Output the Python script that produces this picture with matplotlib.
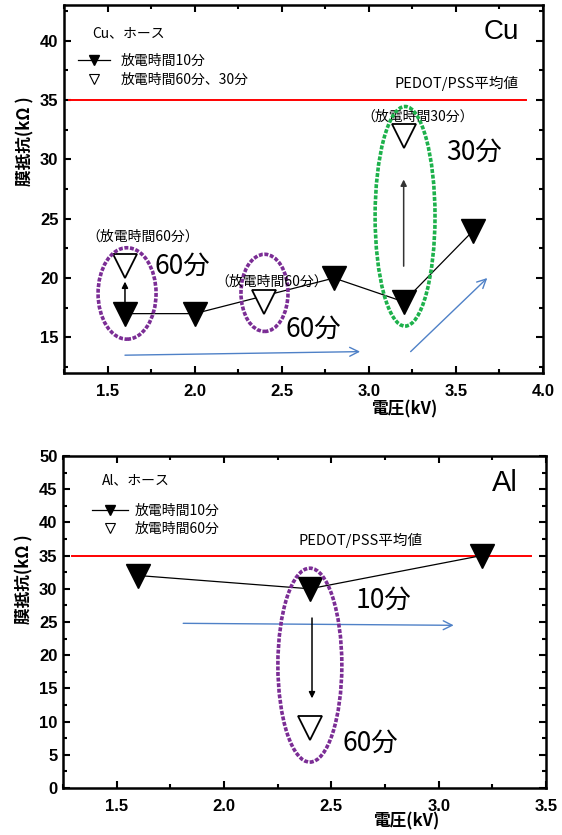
import matplotlib
matplotlib.use('Agg')
import matplotlib.pyplot as plt
from matplotlib.patches import Ellipse
from matplotlib.lines import Line2D
from matplotlib.ticker import MultipleLocator, FixedLocator

# ---------------- data ----------------
cu_v10 = [1.6, 2.0, 2.8, 3.2, 3.6]          # 放電時間10分
cu_r10 = [17, 17, 20, 18, 24]
cu_vlong = [1.6, 2.4, 3.2]                  # 放電時間60分、30分
cu_rlong = [21, 18, 32]

al_v10 = [1.6, 2.4, 3.2]                    # 放電時間10分
al_r10 = [32, 30, 35]
al_vlong = [2.4]                            # 放電時間60分
al_rlong = [9]

pedot_avg = 35

cu_xticks = [1.5, 2.0, 2.5, 3.0, 3.5, 4.0]
cu_yticks = [15, 20, 25, 30, 35, 40]
al_xticks = [1.5, 2.0, 2.5, 3.0, 3.5]
al_yticks = [0, 5, 10, 15, 20, 25, 30, 35, 40, 45, 50]

JP = ['Noto Sans CJK JP', 'DejaVu Sans']
LAT = ['Liberation Sans', 'DejaVu Sans']
PURPLE = '#7B2D95'
GREEN = '#1DB14B'
BLUE = '#4F81C7'
DASH = (0, (1.1, 0.45))

fig = plt.figure(figsize=(5.62, 8.35), dpi=100)
ax1 = fig.add_axes([0.1139, 0.5533, 0.8523, 0.4407])
ax2 = fig.add_axes([0.1121, 0.0563, 0.8594, 0.3976])


def style(ax, xticks, yticks, xlim, ylim):
    ax.set_xlim(*xlim)
    ax.set_ylim(*ylim)
    ax.xaxis.set_major_locator(FixedLocator(xticks))
    ax.yaxis.set_major_locator(FixedLocator(yticks))
    ax.xaxis.set_minor_locator(MultipleLocator(0.25))
    ax.yaxis.set_minor_locator(MultipleLocator(2.5))
    ax.set_xticklabels([f'{t:.1f}' for t in xticks])
    ax.set_yticklabels([f'{t:d}' for t in yticks])
    ax.tick_params(which='both', direction='in', top=True, right=True, width=1.5)
    ax.tick_params(which='major', length=5)
    ax.tick_params(which='minor', length=3)
    ax.tick_params(axis='x', pad=8)
    ax.tick_params(axis='y', pad=4)
    for lab in ax.get_xticklabels() + ax.get_yticklabels():
        lab.set_family(LAT)
        lab.set_weight('bold')
        lab.set_fontsize(12)
    for sp in ax.spines.values():
        sp.set_linewidth(1.8)
    ax.set_ylabel('膜抵抗(kΩ )', family=JP, fontweight='bold', fontsize=12)
    ax.set_xlabel('電圧(kV)', family=JP, fontweight='bold', fontsize=12)
    ax.yaxis.set_label_coords(-0.062, 0.63)
    ax.xaxis.set_label_coords(0.71, -0.075)


# ---------------- Cu ----------------
style(ax1, cu_xticks, cu_yticks, (1.25, 4.0), (12, 43))
ax1.plot([1.28, 3.9], [pedot_avg, pedot_avg], color='red', lw=1.4, zorder=2)
ax1.plot(cu_v10, cu_r10, color='black', lw=0.9, marker='v', ms=17,
         mfc='black', mec='black', zorder=4)
ax1.plot(cu_vlong, cu_rlong, ls='none', marker='v', ms=17,
         mfc='white', mec='black', mew=1.3, zorder=5)

ax1.add_patch(Ellipse((1.612, 18.7), 0.333, 7.7, fill=False, ec=PURPLE,
                      lw=2.6, ls=DASH, zorder=6))
ax1.add_patch(Ellipse((2.401, 18.75), 0.27, 6.5, fill=False, ec=PURPLE,
                      lw=2.6, ls=DASH, zorder=6))
ax1.add_patch(Ellipse((3.208, 25.2), 0.344, 18.5, fill=False, ec=GREEN,
                      lw=2.6, ls=DASH, zorder=6))

ax1.annotate('', xy=(1.6, 19.7), xytext=(1.6, 17.9),
             arrowprops=dict(arrowstyle='-|>', color='black', lw=1.1,
                             mutation_scale=9, shrinkA=0, shrinkB=0), zorder=7)
ax1.annotate('', xy=(3.2, 28.3), xytext=(3.2, 21.0),
             arrowprops=dict(arrowstyle='-|>', color='#333333', lw=1.1,
                             mutation_scale=9, shrinkA=0, shrinkB=0), zorder=7)
ax1.annotate('', xy=(2.95, 13.8), xytext=(1.60, 13.5),
             arrowprops=dict(arrowstyle='->', color=BLUE, lw=1.0,
                             mutation_scale=16, shrinkA=0, shrinkB=0), zorder=3)
ax1.annotate('', xy=(3.68, 20.0), xytext=(3.24, 13.8),
             arrowprops=dict(arrowstyle='->', color=BLUE, lw=1.0,
                             mutation_scale=16, shrinkA=0, shrinkB=0), zorder=3)

ax1.text(0.058, 0.924, 'Cu、ホース', transform=ax1.transAxes, family=JP,
         fontsize=10, ha='left', va='center')
ax1.text(0.914, 0.927, 'Cu', transform=ax1.transAxes, family=LAT,
         fontsize=20, ha='center', va='center')
ax1.text(3.86, 36.4, 'PEDOT/PSS平均値', family=JP, fontsize=10.5,
         ha='right', va='center')
ax1.text(1.376, 23.5, '（放電時間60分）', family=JP, fontsize=10,
         ha='left', va='center')
ax1.text(2.117, 19.7, '（放電時間60分）', family=JP, fontsize=10,
         ha='left', va='center', zorder=8)
ax1.text(2.955, 33.6, '（放電時間30分）', family=JP, fontsize=10,
         ha='left', va='center')
ax1.text(1.77, 21.0, '60分', family=JP, fontsize=19, ha='left', va='center')
ax1.text(2.52, 15.7, '60分', family=JP, fontsize=19, ha='left', va='center')
ax1.text(3.443, 30.6, '30分', family=JP, fontsize=19, ha='left', va='center')

h1 = Line2D([], [], color='black', lw=0.9, marker='v', ms=7, mfc='black', mec='black')
h2 = Line2D([], [], ls='none', marker='v', ms=7, mfc='white', mec='black', mew=0.8)
ax1.legend([h1, h2], ['放電時間10分', '放電時間60分、30分'], loc='upper left',
           bbox_to_anchor=(0.029, 0.866), frameon=False,
           prop={'family': JP, 'size': 10}, handlelength=2.3,
           handletextpad=0.8, labelspacing=0.3, borderpad=0, borderaxespad=0)

# ---------------- Al ----------------
style(ax2, al_xticks, al_yticks, (1.25, 3.5), (0, 50))
ax2.plot([1.29, 3.43], [pedot_avg, pedot_avg], color='red', lw=1.4, zorder=2)
ax2.plot(al_v10, al_r10, color='black', lw=0.9, marker='v', ms=17,
         mfc='black', mec='black', zorder=4)
ax2.plot(al_vlong, al_rlong, ls='none', marker='v', ms=17,
         mfc='white', mec='black', mew=1.3, zorder=5)

ax2.add_patch(Ellipse((2.40, 18.5), 0.298, 29.2, fill=False, ec=PURPLE,
                      lw=2.6, ls=DASH, zorder=6))
ax2.annotate('', xy=(2.41, 13.5), xytext=(2.41, 25.6),
             arrowprops=dict(arrowstyle='-|>', color='black', lw=1.1,
                             mutation_scale=9, shrinkA=0, shrinkB=0), zorder=7)
ax2.annotate('', xy=(3.07, 24.5), xytext=(1.81, 24.8),
             arrowprops=dict(arrowstyle='->', color=BLUE, lw=1.0,
                             mutation_scale=16, shrinkA=0, shrinkB=0), zorder=3)

ax2.text(0.081, 0.928, 'Al、ホース', transform=ax2.transAxes, family=JP,
         fontsize=10, ha='left', va='center')
ax2.text(0.915, 0.92, 'Al', transform=ax2.transAxes, family=LAT,
         fontsize=21, ha='center', va='center')
ax2.text(2.345, 37.3, 'PEDOT/PSS平均値', family=JP, fontsize=10.5,
         ha='left', va='center')
ax2.text(2.615, 28.3, '10分', family=JP, fontsize=19, ha='left', va='center')
ax2.text(2.55, 6.8, '60分', family=JP, fontsize=19, ha='left', va='center')

ax2.legend([h1, h2], ['放電時間10分', '放電時間60分'], loc='upper left',
           bbox_to_anchor=(0.06, 0.857), frameon=False,
           prop={'family': JP, 'size': 10}, handlelength=2.6,
           handletextpad=0.5, labelspacing=0.3, borderpad=0, borderaxespad=0)

fig.savefig('out.png', dpi=100)
